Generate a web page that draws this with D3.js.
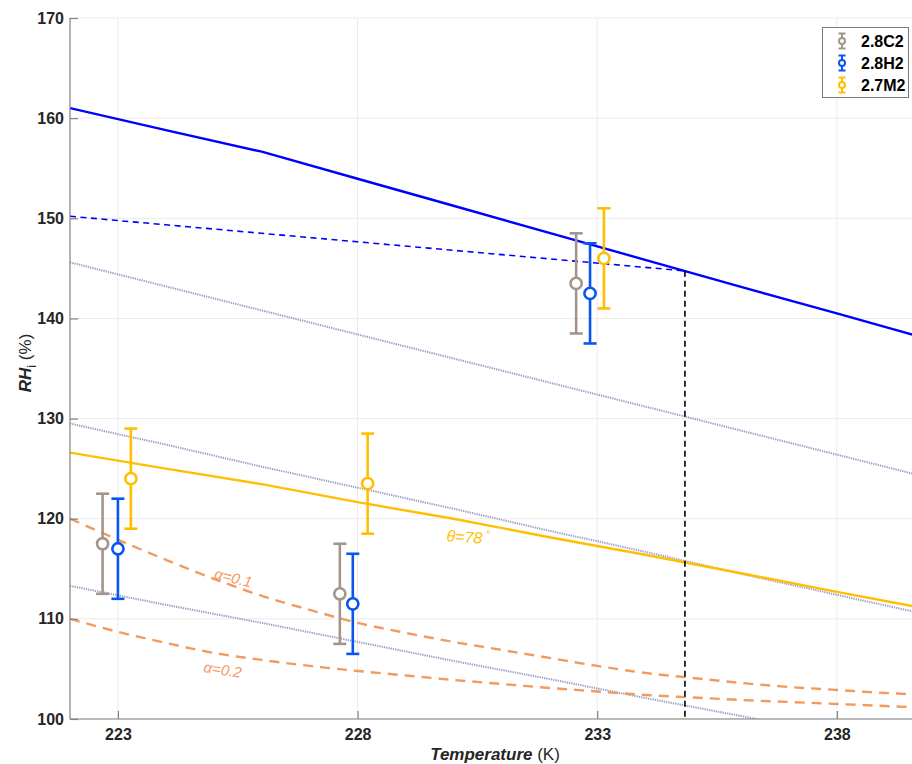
<!DOCTYPE html>
<html><head><meta charset="utf-8">
<script src="https://cdn.jsdelivr.net/npm/d3@7"></script>
<style>body{margin:0;background:#fff} svg{display:block}</style>
</head><body><svg id="chart" width="912" height="764"></svg>
<script>
// ---- data ----
const temps = [222, 224, 226, 228, 230, 232, 234, 236, 238, 240];
const blueSolid = [161.0, 158.8, 156.65, 153.95, 151.25, 148.55, 145.85, 143.15, 140.5, 137.8];
const dotted1 = [145.6, 143.2, 140.8, 138.4, 136.0, 133.6, 131.2, 128.8, 126.4, 124.0];
const dotted2 = [129.5, 127.4, 125.2, 123.1, 121.0, 118.8, 116.7, 114.5, 112.4, 110.3];
const dotted3 = [113.3, 111.4, 109.6, 107.7, 105.8, 104.0, 102.1, 100.3, 98.4, 96.5];
const theta78 = [126.6, 125.0, 123.45, 121.65, 120.0, 118.15, 116.4, 114.55, 112.7, 110.9];

const blueDashT = [222, 224, 226, 228, 230, 232, 234, 234.83];
const blueDash = [150.2, 149.35, 148.5, 147.65, 146.8, 145.95, 145.1, 144.75];

const alphaT = [222, 223, 224, 225, 226, 227, 228, 229, 230, 231, 232, 233, 234, 235, 236, 237, 238, 239, 240];
const alpha01 = [120.0, 117.9, 115.9, 114.0, 112.3, 110.9, 109.6, 108.6, 107.7, 106.9, 106.1, 105.3, 104.6, 104.1, 103.6, 103.2, 102.9, 102.6, 102.4];
const alpha02 = [110.0, 108.7, 107.6, 106.6, 105.9, 105.3, 104.8, 104.35, 103.9, 103.5, 103.1, 102.75, 102.4, 102.15, 101.9, 101.7, 101.5, 101.3, 101.1];

const crossT = 234.83;   // where the two blue curves meet
const crossRH = 144.75;

const instruments = ["2.8C2", "2.8H2", "2.7M2"];
const c2T = [222.68, 227.63, 232.56], c2RH = [117.5, 112.5, 143.5], c2Err = [5, 5, 5];
const h2T = [223.0, 227.9, 232.85], h2RH = [117.0, 111.5, 142.5], h2Err = [5, 5, 5];
const m2T = [223.27, 228.21, 233.14], m2RH = [124.0, 123.5, 146.0], m2Err = [5, 5, 5];

const xTicks = [223, 228, 233, 238];
const yTicks = [100, 110, 120, 130, 140, 150, 160, 170];

// ---- styles ----
const FONT = "'Liberation Sans', Arial, Helvetica, sans-serif";
const instColor = { "2.8C2": "#a2968a", "2.8H2": "#0a55f0", "2.7M2": "#ffbf00" };
const C_BLUE = "#0000ff", C_YEL = "#ffbf00", C_ORANGE = "#f39a5f", C_LAV = "#9c9cc6";

const svg = d3.select("#chart");
const x = d3.scaleLinear().domain([222, 240]).range([70, 70 + 18 * 47.93]);
const y = d3.scaleLinear().domain([100, 170]).range([719, 18]);

svg.append("defs").append("clipPath").attr("id", "plotclip")
  .append("rect").attr("x", x(222)).attr("y", y(170)).attr("width", x(240) - x(222)).attr("height", y(100) - y(170));

// grid
const grid = svg.append("g");
grid.selectAll(".gx").data(xTicks).join("line")
  .attr("x1", d => x(d)).attr("x2", d => x(d)).attr("y1", y(170)).attr("y2", y(100))
  .attr("stroke", "#ebebeb").attr("stroke-width", 1);
grid.selectAll(".gy").data(yTicks).join("line")
  .attr("x1", x(222)).attr("x2", x(240)).attr("y1", d => y(d)).attr("y2", d => y(d))
  .attr("stroke", "#ebebeb").attr("stroke-width", 1);

const plot = svg.append("g").attr("clip-path", "url(#plotclip)");
const line = (xs, ys, curve) => d3.line().x((d, i) => x(xs[i])).y(d => y(d)).curve(curve || d3.curveLinear)(ys);

// dotted reference lines
[dotted1, dotted2, dotted3].forEach(s => {
  plot.append("path").attr("d", line(temps, s)).attr("fill", "none")
    .attr("stroke", C_LAV).attr("stroke-width", 2).attr("stroke-dasharray", "1.3,1");
});
// alpha curves
[alpha01, alpha02].forEach(s => {
  plot.append("path").attr("d", line(alphaT, s, d3.curveMonotoneX)).attr("fill", "none")
    .attr("stroke", C_ORANGE).attr("stroke-width", 2.4).attr("stroke-dasharray", "10,7");
});
// theta = 78 line
plot.append("path").attr("d", line(temps, theta78)).attr("fill", "none")
  .attr("stroke", C_YEL).attr("stroke-width", 2.4);
// blue curves
plot.append("path").attr("d", line(temps, blueSolid)).attr("fill", "none")
  .attr("stroke", C_BLUE).attr("stroke-width", 2.4);
plot.append("path").attr("d", line(blueDashT, blueDash)).attr("fill", "none")
  .attr("stroke", C_BLUE).attr("stroke-width", 1.6).attr("stroke-dasharray", "6,4.5");
// vertical marker
plot.append("line").attr("x1", x(crossT)).attr("x2", x(crossT)).attr("y1", y(crossRH)).attr("y2", y(100))
  .attr("stroke", "#000").attr("stroke-width", 1.6).attr("stroke-dasharray", "6,4");

// curve labels
function label(T, v, rot, parts, size) {
  const t = svg.append("text")
    .attr("transform", `translate(${x(T)},${y(v)}) rotate(${rot})`)
    .attr("text-anchor", "middle").attr("font-family", FONT).attr("font-size", size)
    .attr("fill", parts.color).attr("font-style", "italic");
  parts.items.forEach(p => {
    const s = t.append("tspan").text(p.t);
    if (p.sup) s.attr("dy", -6).attr("font-size", size * 0.7);
  });
}
label(230.3, 117.6, 4, { color: C_YEL, items: [{ t: "θ=78" }, { t: " °", sup: true }] }, 16);
label(225.38, 113.6, 14, { color: C_ORANGE, items: [{ t: "α=0.1" }] }, 15);
label(225.17, 104.4, 9, { color: C_ORANGE, items: [{ t: "α=0.2" }] }, 15);

// error bars
const series = [
  { name: "2.8C2", T: c2T, v: c2RH, e: c2Err },
  { name: "2.8H2", T: h2T, v: h2RH, e: h2Err },
  { name: "2.7M2", T: m2T, v: m2RH, e: m2Err }
];
series.forEach(s => {
  const col = instColor[s.name];
  const g = svg.append("g").attr("stroke", col).attr("stroke-width", 2.6).attr("fill", "none");
  s.T.forEach((T, i) => {
    const cx = x(T), top = y(s.v[i] + s.e[i]), bot = y(s.v[i] - s.e[i]);
    g.append("line").attr("x1", cx).attr("x2", cx).attr("y1", top).attr("y2", bot);
    g.append("line").attr("x1", cx - 6.5).attr("x2", cx + 6.5).attr("y1", top).attr("y2", top);
    g.append("line").attr("x1", cx - 6.5).attr("x2", cx + 6.5).attr("y1", bot).attr("y2", bot);
    g.append("circle").attr("cx", cx).attr("cy", y(s.v[i])).attr("r", 5.6).attr("fill", "#fff");
  });
});

// axes
const AX = "#808080";
const xAxis = d3.axisBottom(x).tickValues(xTicks).tickSizeInner(-8).tickSizeOuter(0).tickPadding(10).tickFormat(d3.format("d"));
const gx = svg.append("g").attr("transform", `translate(0,${y(100)})`).call(xAxis);
const yAxis = d3.axisLeft(y).tickValues(yTicks).tickSizeInner(-8).tickSizeOuter(0).tickPadding(6).tickFormat(d3.format("d"));
const gy = svg.append("g").attr("transform", `translate(${x(222)},0)`).call(yAxis);
[gx, gy].forEach(g => {
  g.select(".domain").attr("stroke", AX).attr("stroke-width", 1.2);
  g.selectAll(".tick line").attr("stroke", AX).attr("stroke-width", 1.2);
  g.selectAll(".tick text").attr("fill", "#262626").attr("font-family", FONT)
    .attr("font-size", 16).attr("font-weight", "bold");
});
gy.select(".domain").attr("d", `M0,${y(170)}V${y(100)}`);
gx.select(".domain").attr("d", `M${x(222)},0H${x(240)}`);

// axis titles
const xt = svg.append("text").attr("x", 495).attr("y", 760).attr("text-anchor", "middle")
  .attr("font-family", FONT).attr("font-size", 17).attr("fill", "#262626");
xt.append("tspan").text("Temperature").attr("font-weight", "bold").attr("font-style", "italic");
xt.append("tspan").text(" (K)");

const yt = svg.append("text").attr("transform", "translate(31,363) rotate(-90)").attr("text-anchor", "middle")
  .attr("font-family", FONT).attr("font-size", 17).attr("fill", "#262626");
yt.append("tspan").text("RH").attr("font-weight", "bold").attr("font-style", "italic");
yt.append("tspan").text("i").attr("dy", 5).attr("font-size", 13);
yt.append("tspan").text(" (%)").attr("dy", -5);

// legend
const lg = svg.append("g");
lg.append("rect").attr("x", 822.5).attr("y", 27.5).attr("width", 86).attr("height", 70)
  .attr("fill", "#fff").attr("stroke", "#7a7a7a").attr("stroke-width", 1);
instruments.forEach((name, i) => {
  const cy = 41 + i * 22, cx = 842, col = instColor[name];
  const g = lg.append("g").attr("stroke", col).attr("stroke-width", 2).attr("fill", "none");
  g.append("line").attr("x1", cx).attr("x2", cx).attr("y1", cy - 7.5).attr("y2", cy + 7.5);
  g.append("line").attr("x1", cx - 3.5).attr("x2", cx + 3.5).attr("y1", cy - 7.5).attr("y2", cy - 7.5);
  g.append("line").attr("x1", cx - 3.5).attr("x2", cx + 3.5).attr("y1", cy + 7.5).attr("y2", cy + 7.5);
  g.append("circle").attr("cx", cx).attr("cy", cy).attr("r", 3).attr("fill", "#fff");
  lg.append("text").attr("x", 861).attr("y", cy + 5.5).text(name)
    .attr("font-family", FONT).attr("font-size", 16).attr("font-weight", "bold").attr("fill", "#000");
});
</script>
</body></html>
